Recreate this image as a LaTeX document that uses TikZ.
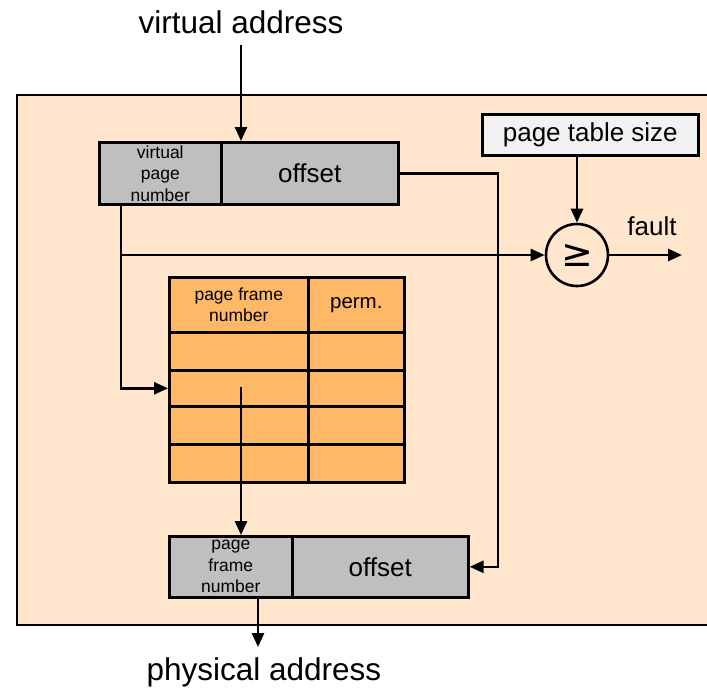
\documentclass[tikz,border=0pt]{standalone}
\usepackage{fontspec}
\setmainfont{Liberation Sans}
\newfontfamily\symfont{DejaVu Sans}
\usetikzlibrary{arrows.meta}
\definecolor{bgc}{RGB}{255,230,204}
\definecolor{cellgray}{RGB}{191,191,191}
\definecolor{tblorange}{RGB}{255,184,102}
\definecolor{lightbox}{RGB}{242,242,242}
\tikzset{
  ln/.style={line width=2.6pt},
  arr/.style={ln,-{Triangle[length=14pt,width=12pt]}},
  cell/.style={draw,ln,rectangle,inner sep=0pt,anchor=north west},
  graycell/.style={cell,fill=cellgray},
  tcell/.style={cell,fill=tblorange},
  bigtxt/.style={font=\fontsize{31.5}{37}\selectfont,inner sep=0pt},
  midtxt/.style={font=\fontsize{26}{30}\selectfont},
  smalltxt/.style={font=\fontsize{17.5}{21.5}\selectfont,align=center},
}
\begin{document}
\begin{tikzpicture}[x=1pt,y=-1pt]
\useasboundingbox (0,0) rectangle (707,689);
% background panel
\fill[bgc] (17,95) rectangle (707,625);
\draw[ln] (707,95) -- (17,95) -- (17,625) -- (707,625);
% virtual address
\node[bigtxt] (vatext) at (241,22) {virtual address};
\node[graycell,minimum width=122pt,minimum height=62pt,smalltxt] (vapfn) at (98,141) {virtual\\page\\number};
\node[graycell,minimum width=177pt,minimum height=62pt,midtxt] (vaoff) at (220,141) {offset};
\draw[arr] (vatext.south |- 0,45) -- (vatext.south |- vaoff.north);
% page table size and comparator
\node[cell,fill=lightbox,minimum width=216pt,minimum height=41pt,midtxt] (pts) at (481,113) {page table size};
\node[draw,ln,circle,minimum size=62pt,inner sep=0pt,font=\symfont\fontsize{38}{40}\selectfont] (cmp) at (577,255) {≥};
\draw[arr] (pts.south -| cmp) -- (cmp.north);
\coordinate (faultend) at (682,255);
\draw[arr] (cmp.east) -- (faultend);
\node[midtxt,inner sep=0pt] (fault) at (652,226) {fault};
% page table
\node[tcell,minimum width=139pt,minimum height=55pt,smalltxt] (h1) at (168,276) {page frame\\number};
\node[tcell,minimum width=96pt,minimum height=55pt,font=\fontsize{20.5}{24}\selectfont] (h2) at (307,276) {perm.};
\node[tcell,minimum width=139pt,minimum height=38pt] (r1a) at (168,331) {};
\node[tcell,minimum width=96pt,minimum height=38pt] (r1b) at (307,331) {};
\node[tcell,minimum width=139pt,minimum height=36pt] (r2a) at (168,369) {};
\node[tcell,minimum width=96pt,minimum height=36pt] (r2b) at (307,369) {};
\node[tcell,minimum width=139pt,minimum height=38pt] (r3a) at (168,405) {};
\node[tcell,minimum width=96pt,minimum height=38pt] (r3b) at (307,405) {};
\node[tcell,minimum width=139pt,minimum height=38pt] (r4a) at (168,443) {};
\node[tcell,minimum width=96pt,minimum height=38pt] (r4b) at (307,443) {};
% physical address
\node[graycell,minimum width=123pt,minimum height=61pt,smalltxt] (papfn) at (168,535) {page\\frame\\number};
\node[graycell,minimum width=176pt,minimum height=61pt,midtxt] (paoff) at (291,535) {offset};
\node[bigtxt] (patext) at (264,672) {physical address};
% connectors
\coordinate (j) at (121,255);
\draw[ln] (j |- vapfn.south) -- (j);
\draw[arr] (j) -- (cmp.west);
\draw[arr] (j) |- (r2a.west);
\coordinate (t) at (241,387);
\draw[arr] (t) -- (t |- papfn.north);
\coordinate (oc) at (498,300);
\draw[arr] (vaoff.east) -| (oc) |- (paoff.east);
\coordinate (pax) at (258,647);
\draw[arr] (pax |- papfn.south) -- (pax);
\end{tikzpicture}
\end{document}
